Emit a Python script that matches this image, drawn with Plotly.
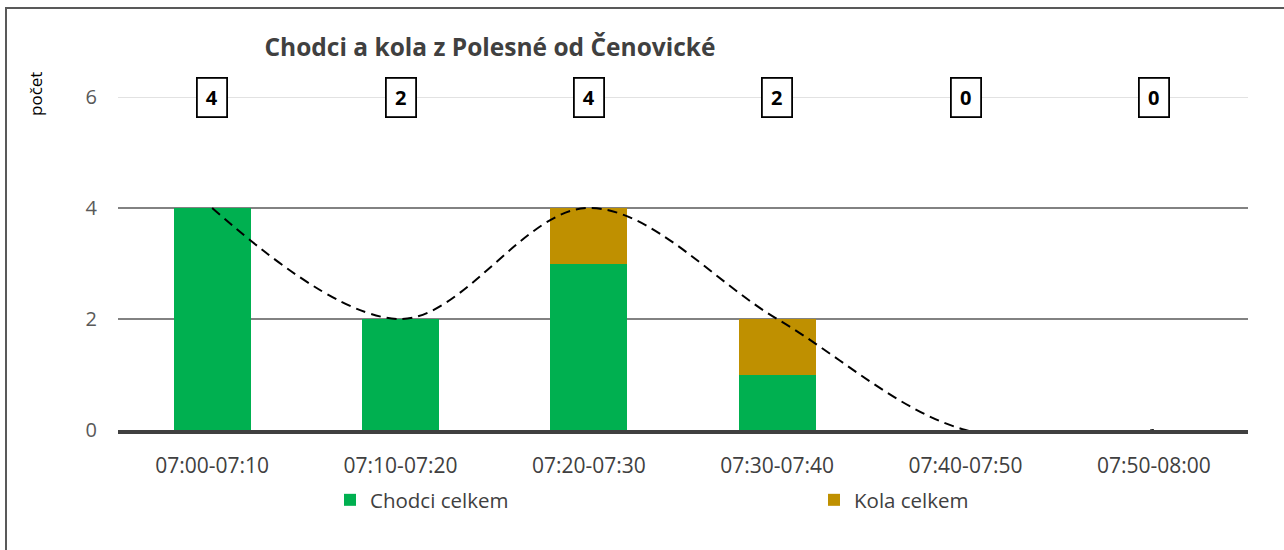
import plotly.graph_objects as go

categories = ["07:00-07:10", "07:10-07:20", "07:20-07:30", "07:30-07:40", "07:40-07:50", "07:50-08:00"]
chodci = [4, 2, 3, 1, 0, 0]
kola = [0, 0, 1, 1, 0, 0]
celkem = [c + k for c, k in zip(chodci, kola)]
y_ticks = [0, 2, 4, 6]

W, H = 1284, 550
L, R, T, B = 118, 36, 97, 120
pw, ph = W - L - R, H - T - B

def px_x(p):
    return (p - L) / pw

def px_y(p):
    return (H - B - p) / ph

font = "'Open Sans', sans-serif"

fig = go.Figure()
fig.add_trace(go.Bar(x=categories, y=chodci, name="Chodci celkem", marker_color="#00B050",
                     marker_line_width=0, width=0.41, legend="legend"))
fig.add_trace(go.Bar(x=categories, y=kola, name="Kola celkem", marker_color="#BF9000",
                     marker_line_width=0, width=0.41, legend="legend2"))
fig.add_trace(go.Scatter(x=categories, y=celkem, mode="lines", name="Celkem", showlegend=False,
                         line=dict(color="black", width=2, dash="10px,6px", shape="spline", smoothing=1.0),
                         cliponaxis=False))

for t in y_ticks[1:]:
    fig.add_hline(y=t, line_color="#d9d9d9" if t == max(y_ticks) else "#595959",
                  line_width=1.5, layer="below")

for c, v in zip(categories, celkem):
    fig.add_annotation(x=c, y=max(y_ticks), text=f"<b>{v}</b>", showarrow=False,
                       font=dict(family=font, size=20, color="black"),
                       bordercolor="black", borderwidth=1.8, bgcolor="white",
                       borderpad=2, width=24, height=33)

fig.add_annotation(xref="paper", yref="paper", x=px_x(35), y=px_y(94), xanchor="center", yanchor="middle",
                   text="počet", textangle=-90, showarrow=False,
                   font=dict(family=font, size=17, color="black"))

fig.add_shape(type="rect", xref="paper", yref="paper", x0=px_x(6), x1=px_x(1300),
              y0=px_y(570), y1=px_y(8), line=dict(color="#595959", width=2), layer="below")

leg_common = dict(orientation="h", xanchor="left", yanchor="middle", itemwidth=30,
                  font=dict(family=font, size=20.5, color="#404040"), bgcolor="rgba(0,0,0,0)")

fig.update_layout(
    width=W, height=H, barmode="stack", bargap=0.59,
    margin=dict(l=L, r=R, t=T, b=B),
    plot_bgcolor="white", paper_bgcolor="white",
    title=dict(text="<b>Chodci a kola z Polesné od Čenovické</b>", x=490 / W, xanchor="center",
               y=1 - 47 / H, yanchor="middle", font=dict(family=font, size=24.5, color="#404040")),
    xaxis=dict(showgrid=False, showline=True, linecolor="#404040", linewidth=3.5, ticks="",
               tickfont=dict(family=font, size=21, color="#404040"), ticklabelstandoff=14),
    yaxis=dict(range=[0, 6], tickvals=y_ticks, showgrid=False, zeroline=False, showline=False,
               tickfont=dict(family=font, size=20, color="#595959"), ticklabelstandoff=20),
    legend=dict(x=px_x(330), y=px_y(500), **leg_common),
    legend2=dict(x=px_x(814), y=px_y(500), **leg_common),
    showlegend=True,
)

fig.write_html("out.html", config={"displayModeBar": False},
               post_script="document.body.style.margin='0';document.body.style.overflow='hidden';")
